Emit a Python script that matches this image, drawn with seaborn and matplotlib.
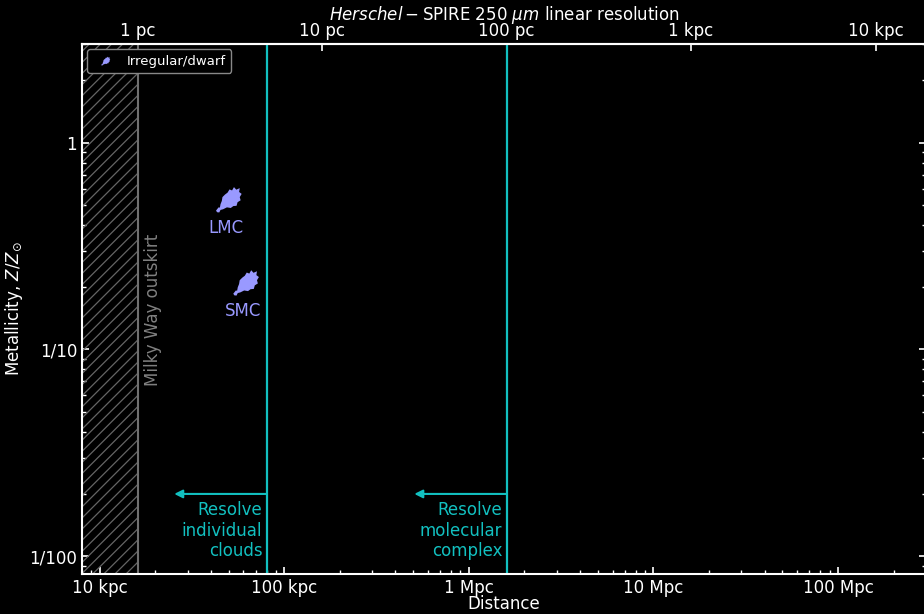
import numpy as np
import pandas as pd
import matplotlib
matplotlib.use("Agg")
import matplotlib.pyplot as plt
import seaborn as sns
from matplotlib.ticker import FixedLocator, NullLocator, LogLocator

# ---------------- data ----------------
galaxies = ["LMC", "SMC"]
distance_kpc = [50.0, 62.0]
metallicity = [0.53, 0.21]
category = ["Irregular/dwarf", "Irregular/dwarf"]

x_ticks = [10, 100, 1000, 1e4, 1e5]
x_ticklabels = ["10 kpc", "100 kpc", "1 Mpc", "10 Mpc", "100 Mpc"]
top_ticks_pc = [1, 10, 100, 1000, 10000]
top_ticklabels = ["1 pc", "10 pc", "100 pc", "1 kpc", "10 kpc"]
y_ticks = [1, 0.1, 0.01]
y_ticklabels = ["1", "1/10", "1/100"]

mw_outskirt_kpc = 16.0
resolve_lines_kpc = [80.0, 1600.0]
resolve_labels = ["Resolve\nindividual\nclouds", "Resolve\nmolecular\ncomplex"]
arrow_metal = 0.02
kpc_per_pc_res = 16.0  # distance (kpc) giving 1 pc resolution

# ---------------- style ----------------
sns.set_theme(style="dark")
plt.rcParams["font.family"] = ["DejaVu Sans"]
plt.rcParams["mathtext.fontset"] = "dejavusans"
plt.rcParams["hatch.linewidth"] = 0.9
cyan = "#12c0c0"
blue = "#9999ff"
fg = "white"

fig = plt.figure(figsize=(9.24, 6.14), dpi=100, facecolor="black")
ax = fig.add_axes([82 / 924, 40 / 614, (926 - 82) / 924, (574 - 44) / 614])
ax.set_facecolor("black")

ax.set_xscale("log")
ax.set_yscale("log")
ax.set_xlim(8, 3e5)
ax.set_ylim(0.0082, 3.0)

# hatched Milky Way region
ax.axvspan(1, mw_outskirt_kpc, facecolor="none", edgecolor="#656565",
           hatch="///", lw=0)
ax.axvline(mw_outskirt_kpc, color="#707070", lw=1.5)
ax.text(19.5, 0.155, "Milky Way outskirt", rotation=90, color="#808080",
        ha="center", va="center", fontsize=12)

# blob marker (irregular galaxy shape)
blob = [(-1.0, -0.85), (-0.8, -0.6), (-0.7, -0.62), (-0.65, -0.35),
        (-0.55, -0.1), (-0.5, 0.2), (-0.3, 0.4), (-0.1, 0.55),
        (0.05, 0.8), (0.25, 0.72), (0.4, 0.98), (0.58, 0.78),
        (0.85, 0.9), (0.8, 0.6), (1.0, 0.45), (0.85, 0.2),
        (0.92, -0.05), (0.68, -0.2), (0.6, -0.48), (0.35, -0.5),
        (0.15, -0.65), (-0.15, -0.6), (-0.45, -0.75), (-0.65, -0.8),
        (-0.75, -1.0), (-0.92, -0.98), (-1.0, -0.85)]

df = pd.DataFrame({"dist": distance_kpc, "Z": metallicity, "cat": category})
sns.scatterplot(data=df, x="dist", y="Z", marker=blob, s=340, color=blue,
                edgecolor="none", label="Irregular/dwarf", ax=ax, zorder=5)

for name, d, z in zip(galaxies, distance_kpc, metallicity):
    ax.annotate(name, xy=(d, z), xytext=(-2, -14), textcoords="offset points",
                ha="center", va="top", color=blue, fontsize=12)

# resolution lines and arrows
for xl, lab in zip(resolve_lines_kpc, resolve_labels):
    ax.axvline(xl, color=cyan, lw=1.6)
    ax.annotate("", xy=(xl / np.sqrt(10), arrow_metal), xytext=(xl, arrow_metal),
                arrowprops=dict(arrowstyle="-|>", color=cyan, lw=1.5,
                                shrinkA=0, shrinkB=0, mutation_scale=12))
    ax.annotate(lab, xy=(xl, arrow_metal), xytext=(-3, -5),
                textcoords="offset points", ha="right", va="top",
                color=cyan, fontsize=12, multialignment="right",
                linespacing=1.2)

# axes formatting
ax.xaxis.set_major_locator(FixedLocator(x_ticks))
ax.set_xticklabels(x_ticklabels)
ax.xaxis.set_minor_locator(LogLocator(base=10, subs=np.arange(2, 10)))
ax.yaxis.set_major_locator(FixedLocator(y_ticks))
ax.set_yticklabels(y_ticklabels)
ax.yaxis.set_minor_locator(LogLocator(base=10, subs=np.arange(2, 10)))
ax.tick_params(which="both", direction="in", colors=fg, labelcolor=fg,
               labelsize=12, right=True, left=True, bottom=True, top=False)
ax.tick_params(which="major", length=5, width=1.2)
ax.tick_params(which="minor", length=3, width=1)
ax.set_xlabel("Distance", color=fg, fontsize=12, labelpad=-1)
ax.set_ylabel(r"Metallicity, $Z/Z_{\odot}$", color=fg, fontsize=12, labelpad=3)
for sp in ax.spines.values():
    sp.set_color(fg)
    sp.set_linewidth(1.5)
    sp.set_visible(True)

# top axis: linear resolution
sec = ax.secondary_xaxis("top", functions=(lambda d: d / kpc_per_pc_res,
                                           lambda r: r * kpc_per_pc_res))
sec.set_xscale("log")
sec.xaxis.set_major_locator(FixedLocator(top_ticks_pc))
sec.set_xticklabels(top_ticklabels)
sec.xaxis.set_minor_locator(NullLocator())
sec.tick_params(which="both", direction="in", colors=fg, labelcolor=fg,
                labelsize=12, length=5, width=1.2, pad=3)
sec.spines["top"].set_color(fg)
sec.spines["top"].set_linewidth(1.5)
sec.set_xlabel(r"$\it{Herschel}-$SPIRE 250 $\mu m$ linear resolution",
               color=fg, fontsize=12, labelpad=1)

leg = ax.legend(loc="upper left", fontsize=9.5, facecolor="black",
                edgecolor="#888888", labelcolor=fg, markerscale=0.35,
                framealpha=1, borderaxespad=0.4, handletextpad=0.6)
leg.get_frame().set_linewidth(1)

fig.savefig("out.png", dpi=100, facecolor="black")
